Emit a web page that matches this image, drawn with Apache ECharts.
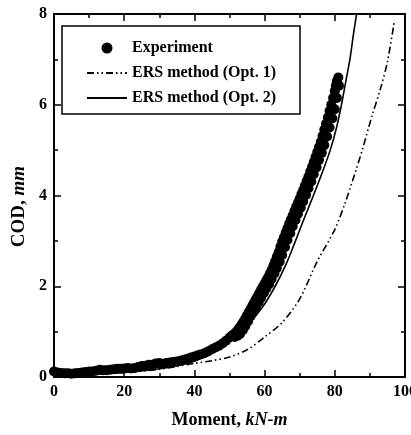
<!DOCTYPE html>
<html>
<head>
<meta charset="utf-8">
<script src="https://cdn.jsdelivr.net/npm/echarts@6/dist/echarts.min.js"></script>
<style>html,body{margin:0;padding:0;background:#fff}#c{width:411px;height:435px}</style>
</head>
<body>
<div id="c"></div>
<script>
// Experiment: moment (kN-m) and COD (mm) — centre of the recorded band
const expX = [0,1,2,3,4,5,6,7,8,9,10,11,12,13,14,15,16,17,18,19,20,21,22,23,24,25,26,27,28,29,30,31,32,33,34,35,36,37,38,39,40,41,42,43,44,45,46,47,48,49,
  50,50.5,51,51.5,52,52.5,53,53.5,54,54.5,55,55.5,56,56.5,57,57.5,58,58.5,59,59.5,60,60.5,61,61.5,62,62.5,63,63.5,64,64.5,65,65.5,66,66.5,67,67.5,68,68.5,69,69.5,
  70,70.5,71,71.5,72,72.5,73,73.5,74,74.5,75,75.5,76,76.5,77,77.5,78,78.5,79,79.5,80,80.3,80.6,81];
const expY = [0.12,0.1,0.09,0.08,0.08,0.07,0.08,0.09,0.1,0.11,0.12,0.12,0.14,0.16,0.15,0.15,0.16,0.17,0.18,0.18,0.19,0.2,0.19,0.2,0.22,0.24,0.25,0.27,0.27,0.3,0.31,0.29,0.31,0.32,0.33,0.34,0.36,0.38,0.4,0.43,0.45,0.48,0.5,0.53,0.57,0.61,0.65,0.69,0.74,0.8,
  0.87,0.9,0.93,0.96,1.0,1.05,1.1,1.16,1.22,1.29,1.36,1.43,1.5,1.57,1.64,1.71,1.78,1.85,1.92,1.99,2.06,2.13,2.2,2.28,2.36,2.45,2.55,2.65,2.75,2.87,2.98,3.08,3.18,3.28,3.38,3.47,3.56,3.66,3.75,3.84,
  3.93,4.03,4.12,4.22,4.32,4.42,4.53,4.63,4.74,4.85,4.96,5.07,5.18,5.31,5.45,5.58,5.72,5.86,6.0,6.15,6.3,6.42,6.52,6.6];
// Experiment: right edge of the band in the steep part
const expEdgeX = [51.5,52.3,53,53.8,54.5,55.3,56,56.8,57.5,58.3,59,59.8,60.5,61.3,62,62.8,63.5,64.3,65,65.8,66.5,67.3,68,68.8,69.5,70.3,71,71.8,72.5,73.3,74,74.8,75.5,76.3,77,77.8,78.5,79.3,80,80.6,81.2];
const expEdgeY = [0.88,0.91,0.95,1.03,1.12,1.23,1.34,1.43,1.53,1.64,1.75,1.85,1.95,2.05,2.16,2.28,2.4,2.54,2.69,2.86,3.02,3.17,3.32,3.46,3.6,3.73,3.87,4.01,4.16,4.31,4.47,4.62,4.78,4.94,5.11,5.3,5.5,5.7,5.9,6.15,6.42];
// ERS method (Opt. 1)
const opt1X = [0,10,20,30,40,45,50,55,60,65,70,75,80,83,86,88,90.5,93,95,97];
const opt1Y = [0.03,0.06,0.1,0.17,0.3,0.36,0.44,0.6,0.88,1.2,1.72,2.55,3.25,3.85,4.55,5.05,5.73,6.35,6.95,7.86];
// ERS method (Opt. 2)
const opt2X = [0,10,20,30,40,45,50,53,56,59.5,63,66.2,68.8,71.3,73.9,76.4,78.7,80.5,81.9,83.1,84.3,85.4,86.2];
const opt2Y = [0.03,0.06,0.1,0.18,0.35,0.55,0.82,1.0,1.22,1.55,2.0,2.5,3.0,3.5,4.0,4.5,5.0,5.5,6.0,6.5,7.0,7.6,8.0];
const xTicks = [0,20,40,60,80,100];
const yTicks = [0,2,4,6,8];

const pair = (xs, ys) => xs.map((x, i) => [x, ys[i]]);
const FONT = 'Liberation Serif';
const chart = echarts.init(document.getElementById('c'), null, {renderer: 'canvas'});
const axisCommon = {
  axisLine: {show: true, onZero: false, lineStyle: {color: '#000', width: 2}},
  axisTick: {show: true, inside: true, length: 7, lineStyle: {color: '#000', width: 1.5}},
  minorTick: {show: true, splitNumber: 2, length: 4, lineStyle: {color: '#000', width: 1.5}},
  splitLine: {show: false}
};
const hideSym = {opacity: 0};
chart.setOption({
  animation: false,
  backgroundColor: '#fff',
  grid: {left: 54, right: 6, top: 14, bottom: 58, containLabel: false, outerBoundsMode: 'none'},
  legend: {
    data: [
      {name: 'Experiment'},
      {name: 'ERS method (Opt. 1)', itemStyle: hideSym},
      {name: 'ERS method (Opt. 2)', itemStyle: hideSym}
    ],
    orient: 'vertical', left: 62, top: 26,
    borderColor: '#000', borderWidth: 1.5, borderRadius: 0,
    padding: [14, 24, 8, 24], itemGap: 9, itemWidth: 40, itemHeight: 11,
    textStyle: {fontFamily: FONT, fontWeight: 'bold', fontSize: 16, color: '#000'},
    backgroundColor: '#fff'
  },
  xAxis: [
    Object.assign({type: 'value', min: 0, max: 100, interval: 20, position: 'bottom',
      name: '{a|Moment, }{b|kN-m}', nameLocation: 'middle', nameGap: 34,
      nameTextStyle: {rich: {
        a: {fontFamily: FONT, fontWeight: 'bold', fontSize: 18, color: '#000'},
        b: {fontFamily: FONT, fontWeight: 'bold', fontStyle: 'italic', fontSize: 18, color: '#000'}}},
      axisLabel: {fontFamily: FONT, fontWeight: 'bold', fontSize: 16, color: '#000', margin: 7,
        formatter: v => xTicks.includes(v) ? String(v) : ''}}, axisCommon),
    Object.assign({type: 'value', min: 0, max: 100, interval: 20, position: 'top',
      axisLabel: {show: false}}, axisCommon)
  ],
  yAxis: [
    Object.assign({type: 'value', min: 0, max: 8, interval: 2, position: 'left',
      name: '{a|COD, }{b|mm}', nameLocation: 'middle', nameGap: 24,
      nameTextStyle: {padding: [0, 22, 0, 0], rich: {
        a: {fontFamily: FONT, fontWeight: 'bold', fontSize: 19, color: '#000'},
        b: {fontFamily: FONT, fontWeight: 'bold', fontStyle: 'italic', fontSize: 19, color: '#000'}}},
      axisLabel: {fontFamily: FONT, fontWeight: 'bold', fontSize: 16, color: '#000', margin: 7,
        formatter: v => yTicks.includes(v) ? String(v) : ''}}, axisCommon),
    Object.assign({type: 'value', min: 0, max: 8, interval: 2, position: 'right',
      axisLabel: {show: false}}, axisCommon)
  ],
  series: [
    {name: 'ERS method (Opt. 1)', type: 'line', data: pair(opt1X, opt1Y), smooth: 0.3,
      symbol: 'none', z: 2, clip: true,
      lineStyle: {color: '#000', width: 1.6, type: [7, 3, 1.5, 3, 1.5, 3]}, itemStyle: {color: '#000'}},
    {name: 'ERS method (Opt. 2)', type: 'line', data: pair(opt2X, opt2Y), smooth: 0.3,
      symbol: 'none', z: 2, clip: true,
      lineStyle: {color: '#000', width: 1.6, type: 'solid'}, itemStyle: {color: '#000'}},
    {name: 'Experiment', type: 'scatter', data: pair(expX, expY).concat(pair(expEdgeX, expEdgeY)),
      symbol: 'circle', symbolSize: 10, z: 3,
      itemStyle: {color: '#000', opacity: 1}}
  ]
});
</script>
</body>
</html>
